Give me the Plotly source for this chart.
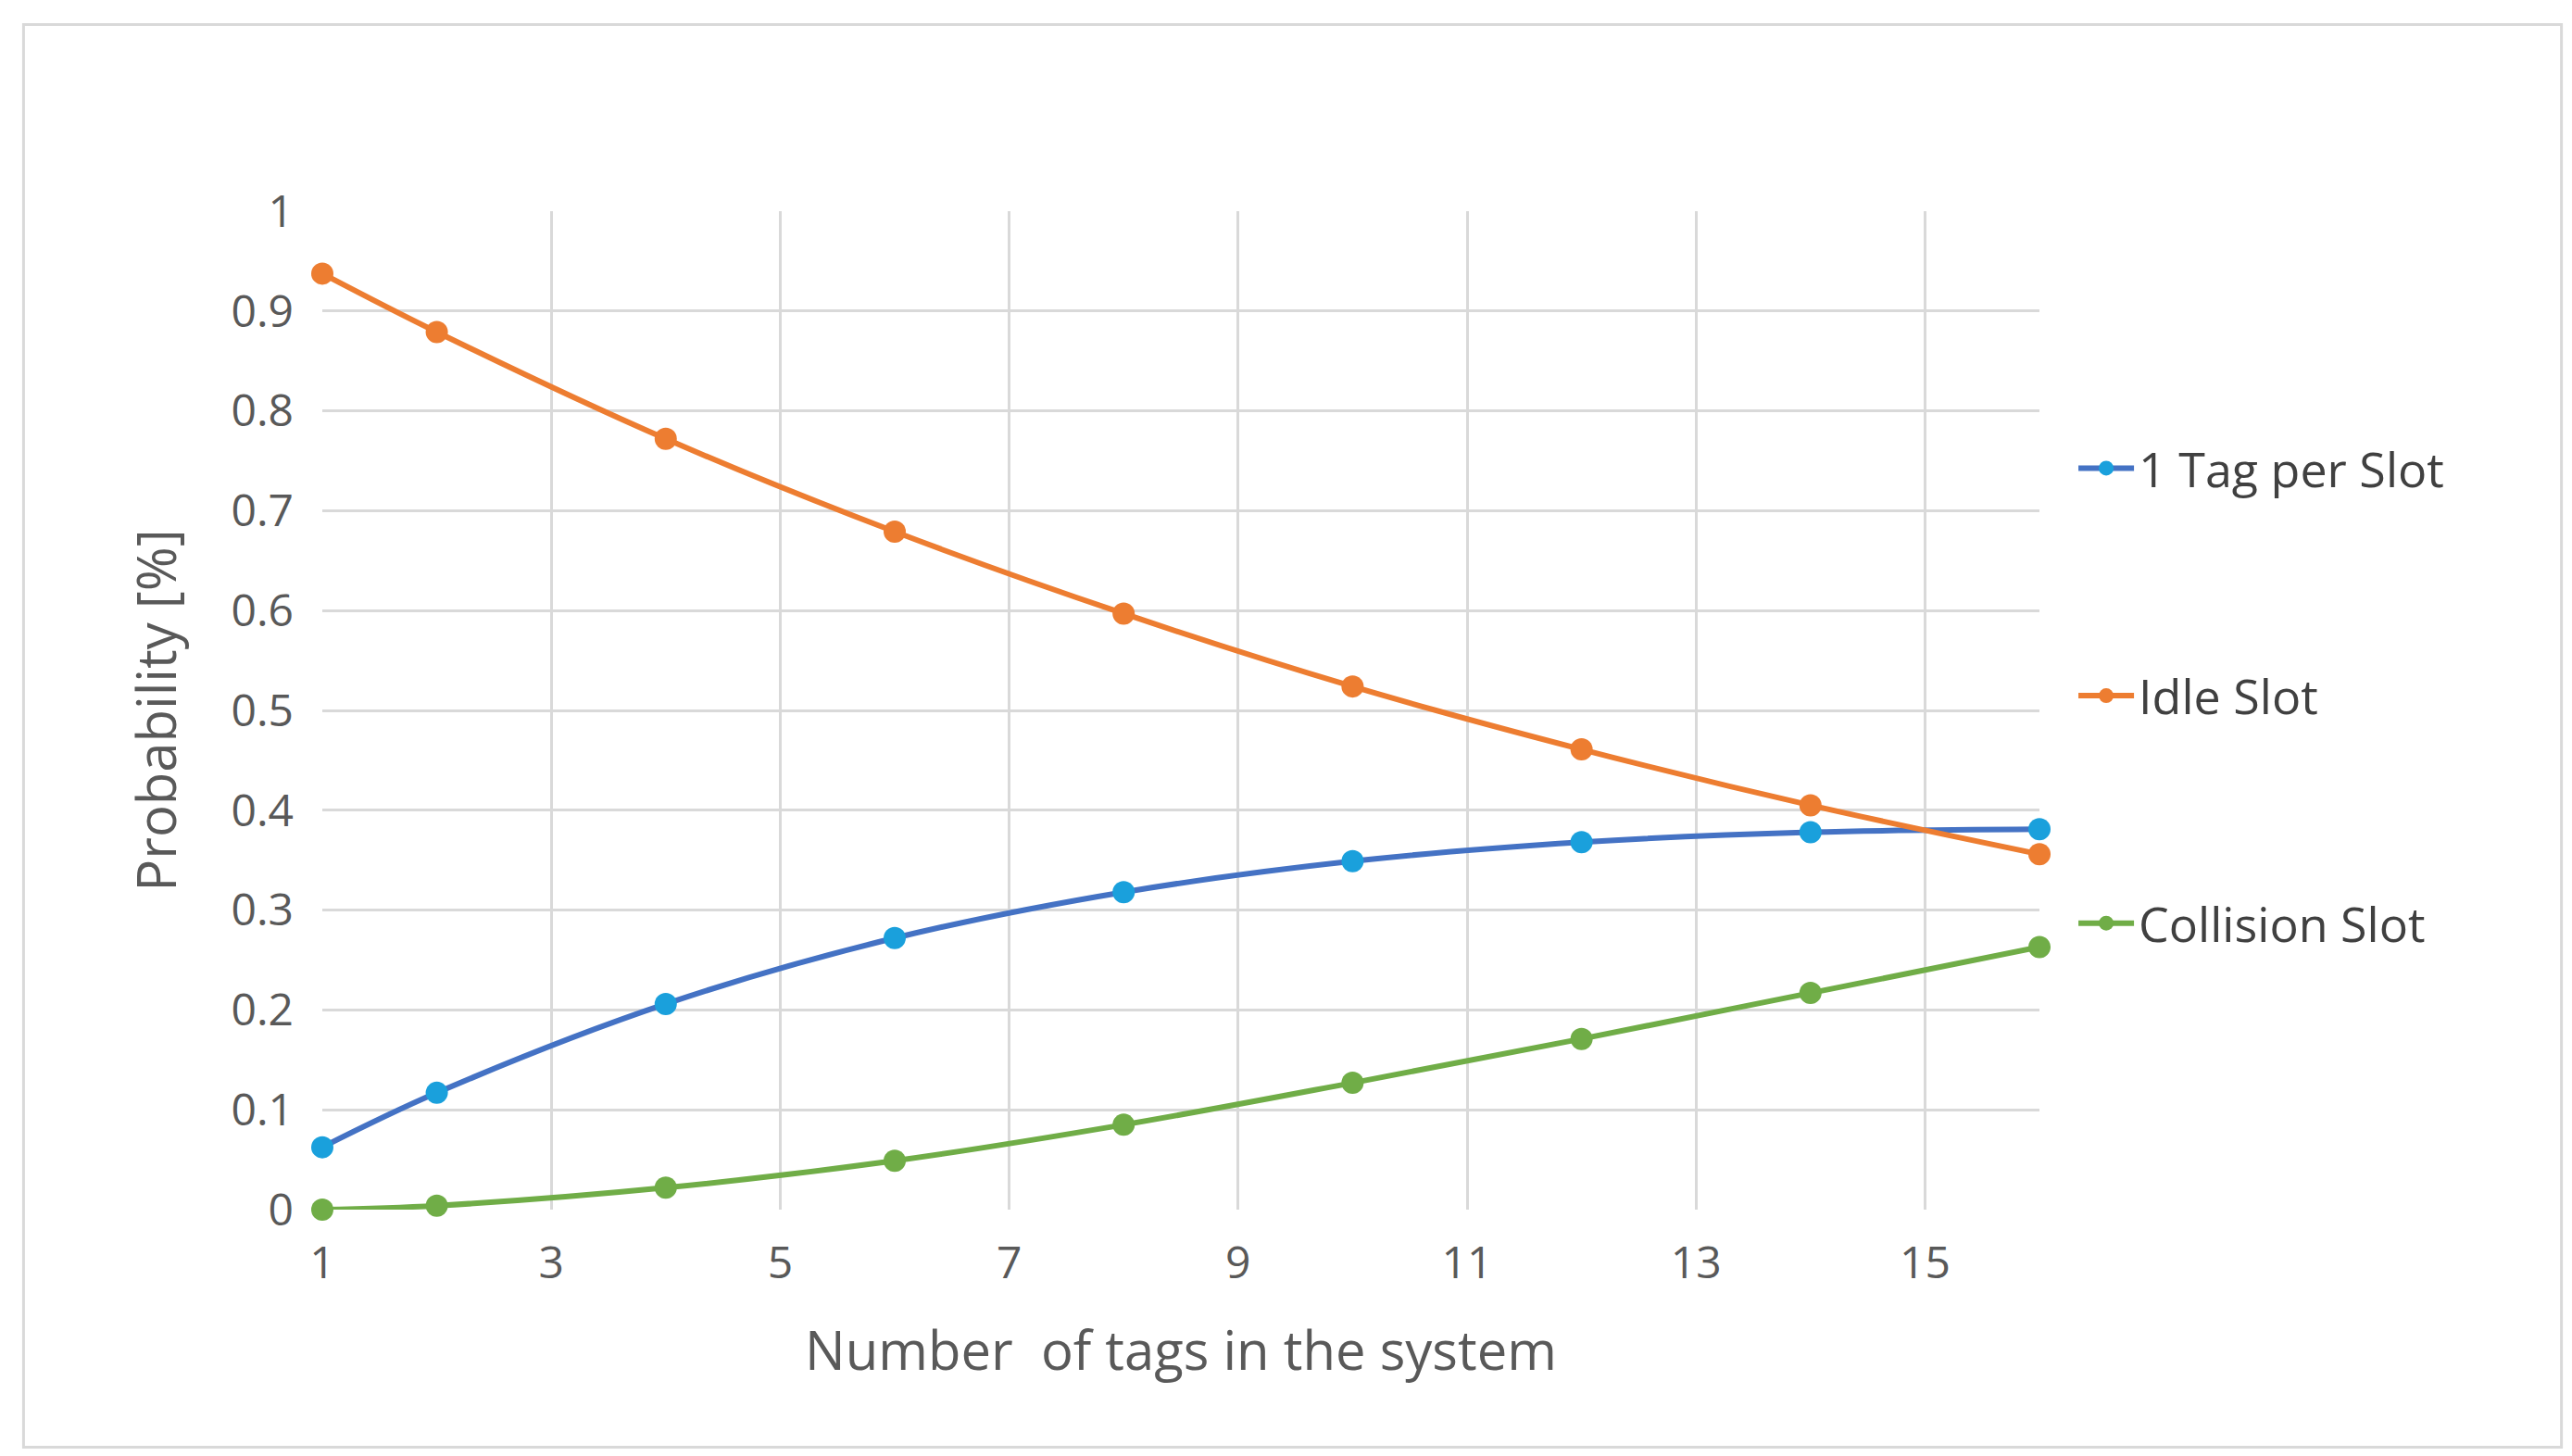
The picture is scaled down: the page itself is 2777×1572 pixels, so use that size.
import plotly.graph_objects as go

tags = [1, 2, 4, 6, 8, 10, 12, 14, 16]
one_tag = [0.0625, 0.117, 0.206, 0.272, 0.318, 0.349, 0.368, 0.378, 0.381]
idle = [0.9375, 0.879, 0.772, 0.679, 0.597, 0.524, 0.461, 0.405, 0.356]
collision = [0.0, 0.004, 0.022, 0.049, 0.085, 0.127, 0.171, 0.217, 0.263]
x_ticks = [1, 3, 5, 7, 9, 11, 13, 15]
y_ticks = [0, 0.1, 0.2, 0.3, 0.4, 0.5, 0.6, 0.7, 0.8, 0.9, 1]

fig = go.Figure()
series = [("1 Tag per Slot", one_tag, "#4472C4", "#1AA0DC"),
          ("Idle Slot", idle, "#ED7D31", "#ED7D31"),
          ("Collision Slot", collision, "#70AD47", "#70AD47")]
for i, (name, vals, lc, mc) in enumerate(series):
    fig.add_trace(go.Scatter(x=tags, y=vals, name=name, mode="lines+markers",
                             line=dict(color=lc, width=6, shape="spline"),
                             marker=dict(color=mc, size=24),
                             legendgroup=str(i), cliponaxis=False))

fig.update_layout(
    width=2777, height=1572,
    paper_bgcolor="white", plot_bgcolor="white",
    margin=dict(l=340, r=583, t=220, b=274),
    font=dict(family="Open Sans, Noto Sans, sans-serif", color="#595959", size=48),
    showlegend=True,
    legend=dict(x=1.02, y=0.78, xanchor="left", yanchor="top", itemwidth=60,
                tracegroupgap=175, font=dict(size=52, color="#404040")),
    xaxis=dict(range=[1, 16], tickvals=x_ticks, showgrid=True, gridcolor="#D9D9D9",
               gridwidth=3, zeroline=False, showline=False, ticks="",
               ticklabelstandoff=25, tickfont=dict(size=48),
               title=dict(text="Number  of tags in the system", font=dict(size=58), standoff=45)),
    yaxis=dict(range=[0, 1], tickvals=y_ticks, showgrid=True, gridcolor="#D9D9D9",
               gridwidth=3, zeroline=False, showline=False, tickfont=dict(size=48),
               ticklabelstandoff=30,
               title=dict(text="Probability [%]", font=dict(size=58), standoff=40)),
    shapes=[dict(type="rect", xref="paper", yref="paper", x0=-0.174, x1=1.304,
                 y0=-0.238, y1=1.187, line=dict(color="#D9D9D9", width=3))],
)
fig.write_html("out.html")
